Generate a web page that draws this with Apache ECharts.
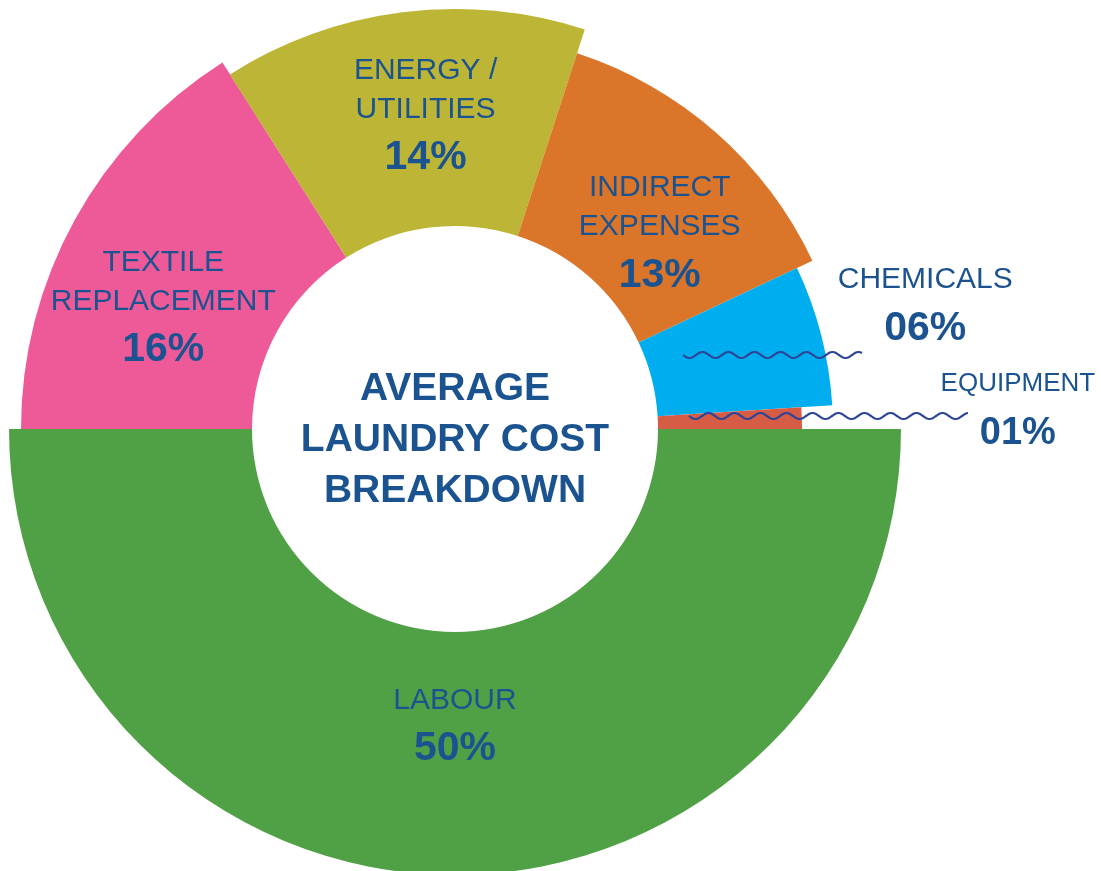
<!DOCTYPE html>
<html>
<head>
<meta charset="utf-8">
<title>Average Laundry Cost Breakdown</title>
<script src="https://cdn.jsdelivr.net/npm/echarts@6/dist/echarts.min.js"></script>
<style>
  html, body { margin: 0; padding: 0; background: #fff; }
  #chart { width: 1101px; height: 871px; }
</style>
</head>
<body>
<div id="chart"></div>
<script>
// data
const categories = ["TEXTILE\nREPLACEMENT", "ENERGY /\nUTILITIES", "INDIRECT\nEXPENSES", "CHEMICALS", "EQUIPMENT", "LABOUR"];
const shares = [16, 14, 13, 6, 1, 50];

// look
const COLORS = ["#ee5a97", "#bdb535", "#db752a", "#00aeef", "#d65c46", "#50a146"];
const OUTER_R = [434, 420, 395, 378, 347, 446];
const INNER_R = 203;
const CX = 455, CY = 429;
const TEXT = "#1b5391";
const WAVE = "#2c4597";
const FONT = "'Liberation Sans', Arial, sans-serif";

// label nudges (dx, dy) from the default inside spot
const NUDGE = [[-10, 37], [10, 2], [5, 34], [186, -47], [285, -4], [0, -27]];

const pad = v => (v < 10 ? "0" + v : "" + v);

const chart = echarts.init(document.getElementById("chart"));

const series = categories.map((_, i) => ({
  type: "pie",
  center: [CX, CY],
  radius: [INNER_R, OUTER_R[i]],
  startAngle: 180,
  clockwise: true,
  silent: true,
  animation: false,
  avoidLabelOverlap: false,
  emphasis: { disabled: true },
  label: {
    position: "inside",
    align: "center",
    formatter: () => `{n|${categories[i]}}\n{p|${pad(shares[i])}%}`,
    rich: {
      n: { fontFamily: FONT, fontSize: i === 4 ? 26 : 30, lineHeight: i === 4 ? 34 : 39, color: TEXT, align: "center" },
      p: { fontFamily: FONT, fontSize: i === 4 ? 38 : 41, fontWeight: "bold", lineHeight: i === 4 ? 64 : 58, color: TEXT, align: "center" }
    }
  },
  labelLine: { show: false },
  labelLayout: { dx: NUDGE[i][0], dy: NUDGE[i][1] },
  data: categories.map((name, j) => ({
    name,
    value: shares[j],
    itemStyle: { color: j === i ? COLORS[i] : "transparent", borderWidth: 0 },
    label: { show: j === i }
  }))
}));

// wavy leader lines for the two small slices
function wave(x0, x1, y) {
  const pts = [];
  for (let x = x0; x <= x1; x += 1) {
    pts.push([x, y + 3 * Math.sin(((x - x0) / 26) * Math.PI * 2)]);
  }
  return pts;
}

const option = {
  backgroundColor: "#fff",
  series,
  graphic: [
    {
      type: "text",
      x: CX,
      y: CY + 11,
      z: 100,
      style: {
        text: "AVERAGE\nLAUNDRY COST\nBREAKDOWN",
        fontFamily: FONT,
        fontSize: 39,
        fontWeight: "bold",
        lineHeight: 51,
        fill: TEXT,
        align: "center",
        verticalAlign: "middle"
      }
    },
    {
      type: "polyline",
      z: 100,
      shape: { points: wave(CX + 228, CX + 407, CY - 74) },
      style: { stroke: WAVE, lineWidth: 2.2, fill: null }
    },
    {
      type: "polyline",
      z: 100,
      shape: { points: wave(CX + 234, CX + 513, CY - 13) },
      style: { stroke: WAVE, lineWidth: 2.2, fill: null }
    }
  ]
};

chart.setOption(option);
window.addEventListener("resize", () => chart.resize());
</script>
</body>
</html>
